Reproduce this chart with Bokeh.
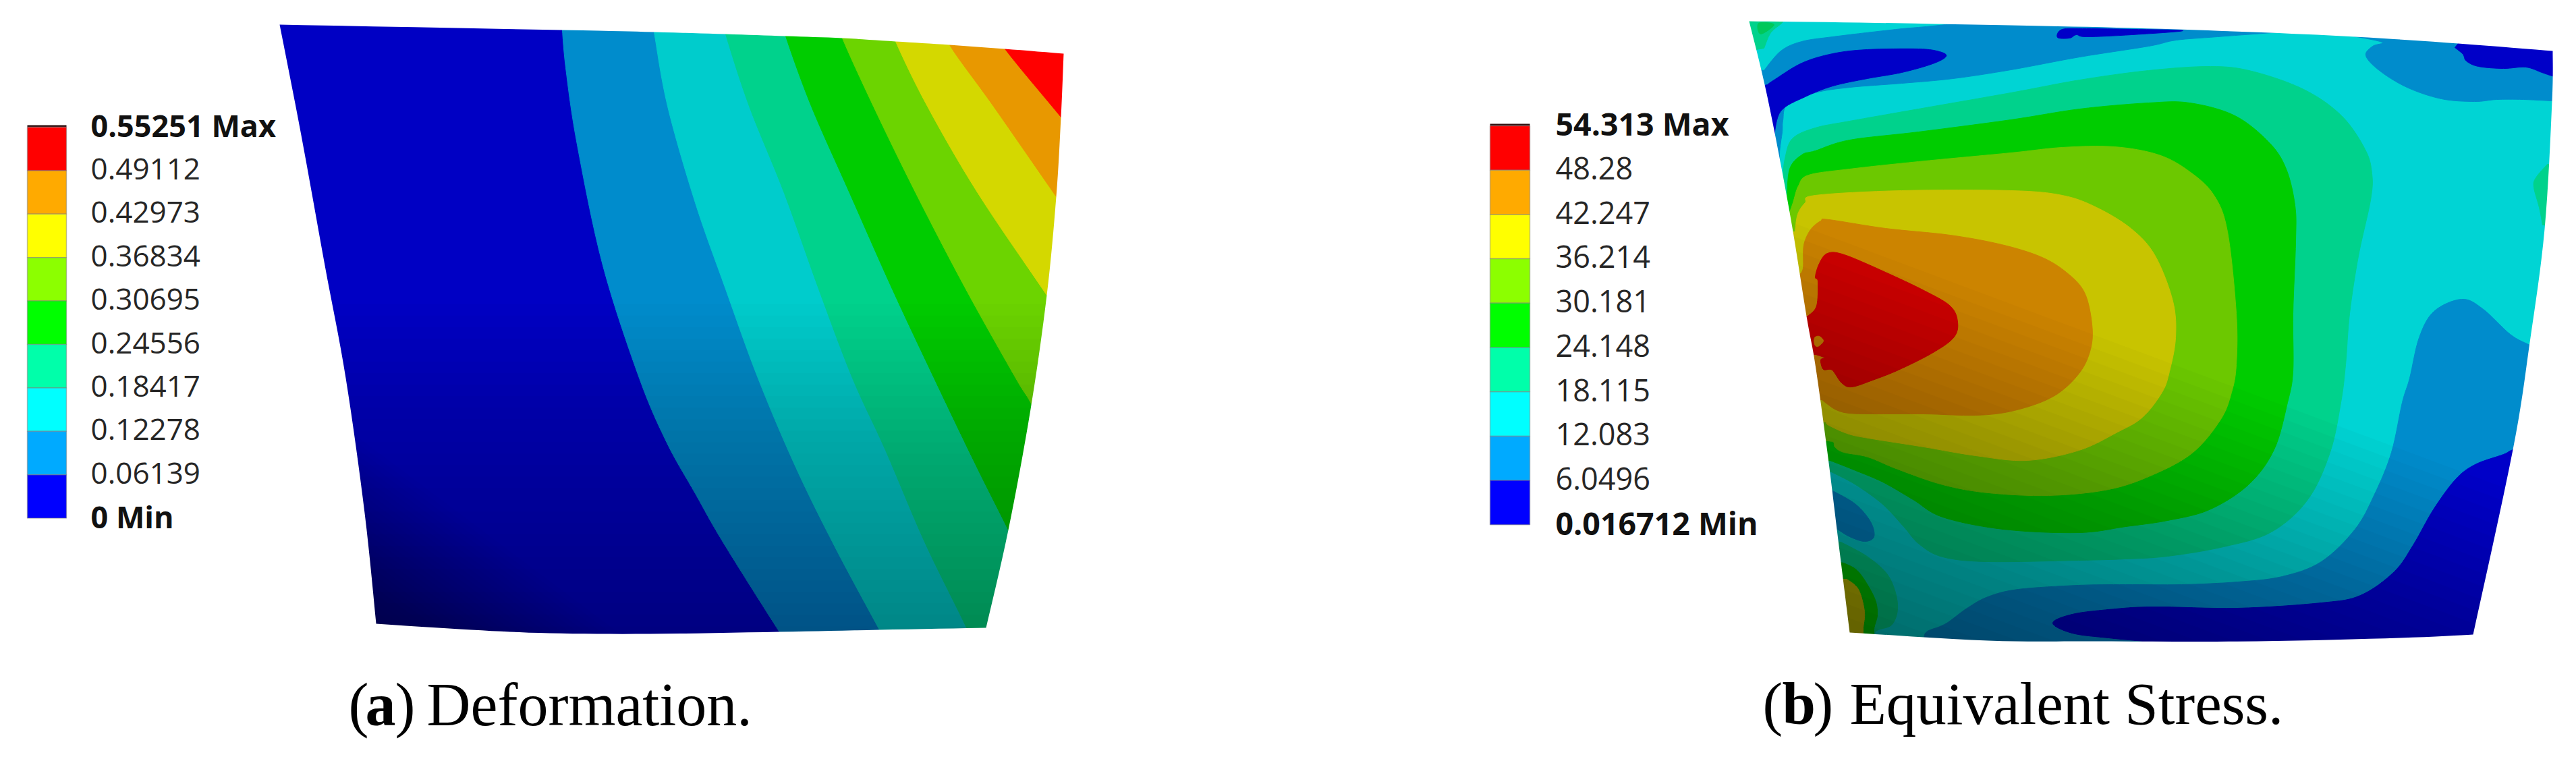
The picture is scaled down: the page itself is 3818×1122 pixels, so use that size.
from bokeh.plotting import figure
from bokeh.models import Range1d
from bokeh.core.properties import value
from bokeh.embed import file_html
from bokeh.resources import INLINE

# ---------- legend data ----------
LEGEND_COLORS = ["#FF0000", "#FFAA00", "#FFFF00", "#8CFF00", "#00FF00", "#00FFAA", "#00FFFF", "#00AAFF", "#0000FF"]
DEFORM_LABELS = ["0.55251 Max", "0.49112", "0.42973", "0.36834", "0.30695", "0.24556", "0.18417", "0.12278", "0.06139", "0 Min"]
STRESS_LABELS = ["54.313 Max", "48.28", "42.247", "36.214", "30.181", "24.148", "18.115", "12.083", "6.0496", "0.016712 Min"]

# ---------- panel a: outline and contour boundaries ----------
A_TOP = [(414,36),(832,44),(969,47),(1075,50),(1164,53),(1248,56),(1327,61),(1407,66),(1489,72),(1576,79)]
A_RIGHT = [(1576,79),(1572,173),(1565,291),(1551,437),(1527,606),(1494,785),(1461,930)]
A_BOTTOM = [(1461,930),(1303,933),(1154,936),(963,939),(814,938),(698,933),(557,924)]
A_LEFT = [(557,924),(540,760),(512,560),(481,393),(446,200),(414,36)]
A_COLORS = ["#0000C4","#008CCC","#00CCCC","#00D28C","#00CC00","#6CD400","#D4D800","#E89800","#FF0000"]
A_B1 = [(832,30),(838,100),(855,214),(893,393),(947,560),(988,656),(1030,731),(1071,803),(1154,935),(1175,965)]
A_B2 = [(966,30),(969,47),(989,157),(1030,300),(1075,428),(1123,560),(1179,692),(1237,810),(1303,933),(1320,965)]
A_B3 = [(1072,30),(1075,50),(1110,157),(1162,286),(1213,428),(1263,560),(1312,667),(1370,803),(1432,930),(1445,965)]
A_B4 = [(1160,30),(1164,53),(1202,157),(1259,286),(1322,428),(1384,560),(1444,685),(1494,785),(1520,840)]
A_B5 = [(1242,30),(1248,56),(1294,157),(1357,286),(1431,428),(1505,560),(1527,596),(1560,660)]
A_B6 = [(1318,30),(1327,61),(1374,157),(1449,286),(1551,437),(1600,510)]
A_B7 = [(1396,30),(1407,66),(1472,157),(1565,291),(1620,370)]
A_B8 = [(1465,30),(1489,72),(1572,173),(1620,232)]

# ---------- panel b: outline and contours ----------
B_TOP = [(2592,31),(2756,33),(2980,37),(3159,41),(3337,47),(3490,54),(3643,64),(3783,75)]
B_RIGHT = [(3783,75),(3782,150),(3771,339),(3749,507),(3724,666),(3665,940)]
B_BOTTOM = [(3665,940),(3556,945),(3345,950),(3103,950),(2946,949),(2741,937)]
B_LEFT = [(2741,937),(2723,792),(2708,670),(2690,540),(2677,468),(2652,314),(2619,143),(2592,31)]
LV = ["#0000C8","#008CCC","#00D4D4","#00D28C","#00CC00","#6CC800","#C8C400","#CC8400","#D00000"]

B_TOP_BLUE = [(2614,104),(2639,75),(2670,61),(2716,54),(2792,45),(2843,40),(2980,30),(3230,32),(3388,42),(3388,46),
              (3286,54),(3225,59),(3184,68),(3082,84),(2980,103),(2894,116),(2818,123),(2741,129),(2690,137),
              (2649,154),(2642,178),(2641,195),(2637,228),(2640,260)]
B_TOP_BLUE_C = [(2590,262),(2590,100)]
B_TL_DARK = [(2619,125),(2629,118),(2670,93),(2716,79),(2767,73),(2843,72),(2874,76),(2884,83),(2864,94),(2818,107),
             (2767,116),(2716,127),(2675,143),(2639,164),(2629,200)]
B_TL_DARK_C = [(2600,205),(2600,130)]
B_STRIP_DARK = [(3049,55),(3056,43),(3092,42),(3159,43),(3235,45),(3159,51),(3092,54),(3077,51),(3067,56)]
B_TR_BLUE = [(3482,52),(3530,62),(3516,68),(3506,82),(3526,104),(3567,129),(3618,146),(3667,150),(3700,147),(3740,147),(3800,150)]
B_TR_BLUE_C = [(3800,50),(3500,40)]
B_TR_DARK = [(3638,70),(3650,80),(3655,90),(3673,98),(3710,101),(3743,99),(3767,107),(3782,112),(3800,116)]
B_TR_DARK_C = [(3800,60),(3650,55)]
B_BOT_BLUE = [(2853,960),(2853,938),(2875,928),(2888,921),(2915,901),(2946,884),(2991,873),(3080,867),(3150,866),(3233,866),
              (3316,862),(3382,854),(3440,832),(3490,784),(3519,732),(3544,670),(3560,596),(3571,560),(3585,500),
              (3607,461),(3648,443),(3679,457),(3720,495),(3749,511),(3790,530)]
B_BOT_BLUE_C = [(3800,990),(2853,990)]
B_BOT_DARK = [(3200,952),(3125,945),(3071,938),(3042,923),(3071,910),(3125,903),(3191,899),(3316,901),(3440,893),(3498,882),
              (3548,847),(3577,806),(3606,755),(3639,710),(3668,688),(3710,673),(3724,666),(3770,650)]
B_BOT_DARK_C = [(3800,990),(3200,990)]
B_L3 = [(2642,262),(2645,235),(2656,205),(2690,189),(2741,179),(2843,161),(2980,137),(3082,118),(3184,104),(3276,98),(3337,105),
        (3414,132),(3470,171),(3505,221),(3515,257),(3513,296),(3495,379),(3482,464),(3476,540),(3469,596),(3453,670),
        (3420,740),(3366,788),(3295,810),(3212,824),(3150,828),(3080,830),(2946,832),(2879,825),(2844,806),(2821,780),
        (2790,747),(2750,718),(2714,699)]
B_L3_C = [(2600,700),(2600,262)]
B_L4 = [(2648,296),(2652,250),(2670,229),(2690,223),(2741,207),(2843,195),(2980,177),(3082,161),(3184,152),(3245,152),(3312,171),
        (3363,211),(3388,250),(3401,304),(3402,357),(3398,464),(3398,550),(3390,596),(3370,666),(3332,718),(3274,755),
        (3212,771),(3150,780),(3080,789),(2969,784),(2879,766),(2835,740),(2790,714),(2745,695),(2712,682)]
B_L4_C = [(2620,680),(2620,318)]
B_L5 = [(2652,314),(2657,300),(2665,275),(2680,259),(2741,250),(2843,239),(2980,226),(3056,218),(3133,217),(3199,229),(3245,254),
        (3281,289),(3301,343),(3314,464),(3314,540),(3307,581),(3291,621),(3250,670),(3191,703),(3125,725),(3036,734),
        (2946,730),(2879,718),(2812,695),(2768,677),(2732,670),(2719,662),(2717,655),(2708,653)]
B_L5_C = [(2620,653),(2620,320)]
B_L6 = [(2660,343),(2664,317),(2675,300),(2690,289),(2818,282),(2980,282),(3056,289),(3107,307),(3159,339),(3194,379),(3220,446),
        (3224,500),(3215,550),(3204,581),(3175,618),(3138,640),(3081,667),(3004,682),(2928,675),(2851,662),(2775,650),
        (2740,643),(2710,630),(2706,625)]
B_L6_C = [(2630,625),(2630,345)]
B_L7 = [(2666,407),(2672,397),(2673,363),(2683,340),(2698,327),(2710,325),(2794,338),(2890,348),(2966,362),(3024,380),(3062,403),
        (3089,433),(3100,480),(3098,517),(3081,553),(3043,587),(2985,608),(2928,615),(2851,613),(2775,613),(2740,612),
        (2721,607),(2706,597),(2700,592)]
B_L7_C = [(2640,590),(2640,410)]
B_L8 = [(2679,468),(2692,453),(2694,417),(2690,410),(2696,390),(2708,375),(2733,377),(2794,403),(2851,430),(2890,453),(2901,477),
        (2895,500),(2863,523),(2813,548),(2775,563),(2744,573),(2729,567),(2715,548),(2702,547),(2698,533),(2704,530),(2691,525)]
B_L8_C = [(2660,525),(2660,468)]
B_HOLE = [(2689,500),(2696,498),(2702,505),(2694,513),(2689,510)]
B_ISLAND = [(2716,727),(2750,747),(2772,773),(2777,795),(2763,802),(2741,795),(2723,784)]
B_ISLAND_C = [(2690,780),(2690,730)]
B_CORNER3 = [(2728,803),(2768,825),(2799,854),(2812,895),(2804,925),(2779,936),(2780,960)]
B_CORNER3_C = [(2700,960),(2700,800)]
B_CORNER4 = [(2732,834),(2754,847),(2777,884),(2782,910),(2777,932),(2777,960)]
B_CORNER4_C = [(2710,960),(2710,830)]
B_CORNER6 = [(2737,858),(2754,873),(2763,906),(2761,932),(2761,960)]
B_CORNER6_C = [(2715,960),(2715,858)]
B_TLC_TEAL = [(2645,20),(2642,32),(2624,48),(2614,71)]
B_TLC_TEAL_C = [(2590,75),(2590,20)]
B_TLC_GREEN = [(2606,34),(2629,36),(2609,50)]
B_SLIVER = [(3775,243),(3758,263),(3755,277),(3763,307),(3768,333)]
B_SLIVER_C = [(3800,333),(3800,243)]


def smooth(pts, closed=False, k=8):
    """Catmull-Rom rendering of a traced contour so that it draws as a curve."""
    n = len(pts)
    out = []
    segs = n if closed else n - 1
    for i in range(segs):
        if closed:
            p0, p1, p2, p3 = pts[(i-1) % n], pts[i], pts[(i+1) % n], pts[(i+2) % n]
        else:
            p0, p1, p2, p3 = pts[max(i-1, 0)], pts[i], pts[i+1], pts[min(i+2, n-1)]
        for j in range(k):
            t = j / k
            q = []
            for a in range(2):
                q.append(0.5*(2*p1[a] + (p2[a]-p0[a])*t + (2*p0[a]-5*p1[a]+4*p2[a]-p3[a])*t*t
                              + (3*p1[a]-p0[a]-3*p2[a]+p3[a])*t*t*t))
            out.append(tuple(q))
    if not closed:
        out.append(pts[-1])
    return out


p = figure(width=3802, height=1106, output_backend="svg", toolbar_location=None,
           x_range=Range1d(0, 3802), y_range=Range1d(1106, 0), min_border=0,
           x_axis_type="linear", background_fill_color="white", border_fill_color="white")
p.axis.visible = False
p.grid.visible = False
p.outline_line_color = None


def fill(curve, corners, color, closed=False):
    pts = smooth(curve, closed=closed) + list(corners)
    p.patch([a for a, _ in pts], [b for _, b in pts], fill_color=color, line_color=color, line_width=1)


def shade(rect, dx, dy, s0, s1, total, n=30):
    """Darkening towards one side: nested translucent black half planes, cut to rect."""
    x0, y0, x1, y1 = rect
    corners = [(x0, y0), (x1, y0), (x1, y1), (x0, y1)]
    a = 1 - (1 - total) ** (1 / n)
    xs, ys = [], []
    for i in range(n):
        s = s0 + (s1 - s0) * i / (n - 1)
        poly = []
        for j in range(4):
            u, v = corners[j], corners[(j+1) % 4]
            su = dx*u[0] + dy*u[1] - s
            sv = dx*v[0] + dy*v[1] - s
            if su >= 0:
                poly.append(u)
            if (su >= 0) != (sv >= 0):
                t = su / (su - sv)
                poly.append((u[0] + (v[0]-u[0])*t, u[1] + (v[1]-u[1])*t))
        if poly:
            xs.append([q[0] for q in poly])
            ys.append([q[1] for q in poly])
    p.patches(xs, ys, fill_color="black", fill_alpha=a, line_color=None)


# ---------- panel a ----------
p.patch([380, 1650, 1650, 380], [10, 10, 980, 980], fill_color=A_COLORS[0], line_color=None)
for i, b in enumerate([A_B1, A_B2, A_B3, A_B4, A_B5, A_B6, A_B7, A_B8]):
    fill(b, [(1650, b[-1][1]), (1650, 10), (b[0][0], 10)], A_COLORS[i+1])
A_RECT = (380, 10, 1650, 980)
shade(A_RECT, 0, 1, 450, 945, 0.27)
shade(A_RECT, -0.6, 0.8, 200, 405, 0.33)

# ---------- panel b ----------
p.patch([2570, 3810, 3810, 2570], [10, 10, 990, 990], fill_color=LV[2], line_color=None)
fill(B_TOP_BLUE, B_TOP_BLUE_C, LV[1])
fill(B_TL_DARK, B_TL_DARK_C, LV[0])
fill(B_STRIP_DARK, [], LV[0], closed=True)
fill(B_TR_BLUE, B_TR_BLUE_C, LV[1])
fill(B_TR_DARK, B_TR_DARK_C, LV[0])
fill(B_BOT_BLUE, B_BOT_BLUE_C, LV[1])
fill(B_BOT_DARK, B_BOT_DARK_C, LV[0])
fill(B_L3, B_L3_C, LV[3])
fill(B_L4, B_L4_C, LV[4])
fill(B_L5, B_L5_C, LV[5])
fill(B_L6, B_L6_C, LV[6])
fill(B_L7, B_L7_C, LV[7])
fill(B_L8, B_L8_C, LV[8])
fill(B_HOLE, [], LV[7], closed=True)
fill(B_ISLAND, B_ISLAND_C, LV[1])
fill(B_CORNER3, B_CORNER3_C, LV[3])
fill(B_CORNER4, B_CORNER4_C, LV[4])
fill(B_CORNER6, B_CORNER6_C, LV[6])
fill(B_TLC_TEAL, B_TLC_TEAL_C, LV[3])
fill(B_TLC_GREEN, [], "#00C85A", closed=True)
fill(B_SLIVER, B_SLIVER_C, LV[3])
shade((2570, 10, 3810, 990), -0.35, 0.94, -620, -80, 0.44)


# ---------- white mask that cuts both fields to their outlines ----------
def ring(edges):
    pts = []
    for e in edges:
        pts += smooth(e)
    return [a for a, _ in pts], [b for _, b in pts]


ax, ay = ring([A_TOP, A_RIGHT, A_BOTTOM, A_LEFT])
bx, by = ring([B_TOP, B_RIGHT, B_BOTTOM, B_LEFT])
frame_x, frame_y = [0, 3818, 3818, 0], [0, 0, 1122, 1122]
p.multi_polygons(xs=[[[frame_x, ax, bx]]], ys=[[[frame_y, ay, by]]], fill_color="white", line_color=None)

TEXT_LIFT = 0.36  # the svg text sits this many ems under the requested baseline


# ---------- legends ----------
def legend(x0, x1, top, step, labels, text_x, size, bold_size, cap):
    n = len(LEGEND_COLORS)
    tops = [top + step*i for i in range(n)]
    bots = [t + step for t in tops]
    p.quad(left=x0, right=x1, top=[top - cap], bottom=[top], fill_color="#301010", line_color=None)
    p.quad(left=x0, right=x1, top=tops, bottom=bots, fill_color=LEGEND_COLORS, line_color="#808080", line_alpha=0.5, line_width=1.5)
    base = [top + step*i + 13.5 for i in range(n+1)]
    mid = labels[1:-1]
    p.text(x=[text_x]*len(mid), y=[b - TEXT_LIFT*size for b in base[1:-1]], text=mid,
           text_font=value("Open Sans"), text_font_size=f"{size}px",
           text_color="#262626", text_baseline="alphabetic", text_align="left")
    p.text(x=[text_x]*2, y=[base[0] - TEXT_LIFT*bold_size, base[-1] - TEXT_LIFT*bold_size], text=[labels[0], labels[-1]],
           text_font=value("Open Sans"), text_font_size=f"{bold_size}px", text_font_style="bold", text_color="#111111",
           text_baseline="alphabetic", text_align="left")


legend(40, 98, 188, 64.4, DEFORM_LABELS, 134, 44, 45, 3)
legend(2208, 2267, 186, 65.7, STRESS_LABELS, 2305, 45, 46.5, 3)


# ---------- captions ----------
def caption(parts, y, size):
    for x, txt, style in parts:
        p.text(x=[x], y=[y - TEXT_LIFT*size], text=[txt], text_font=value("Liberation Serif"), text_font_size=f"{size}px",
               text_font_style=style, text_color="black", text_baseline="alphabetic", text_align="left")


caption([(516, "(", "normal"), (541, "a", "bold"), (585, ")", "normal"), (632, "Deformation.", "normal")], 1076, 90)
caption([(2612, "(", "normal"), (2641, "b", "bold"), (2687, ")", "normal"), (2741, "Equivalent Stress.", "normal")], 1075, 89)

open("out.html", "w").write(file_html(p, INLINE))
